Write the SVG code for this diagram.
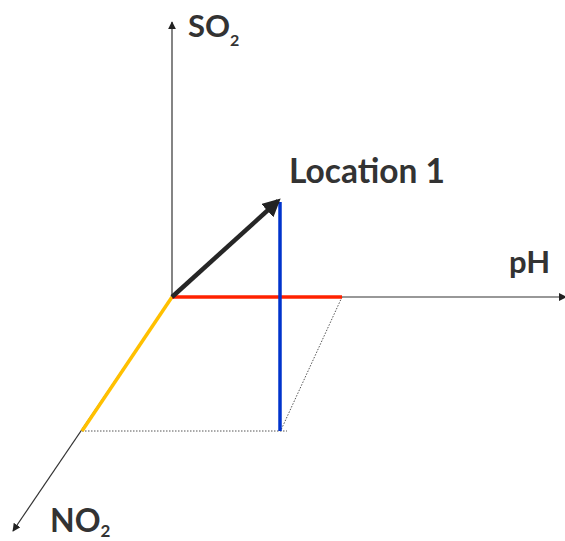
<svg xmlns="http://www.w3.org/2000/svg" width="565" height="541" viewBox="0 0 565 541">
<style>
.axis{stroke:#333;stroke-width:1.2;fill:none}
.dot{stroke:#555;stroke-width:1;stroke-dasharray:1.5 1.5;fill:none}
.lbl{font-family:Lato,"Open Sans",sans-serif;font-weight:bold;fill:#333}
</style>
<defs>
<marker id="ah" viewBox="0 0 10 10" refX="9" refY="5" markerWidth="8" markerHeight="8" markerUnits="userSpaceOnUse" orient="auto">
<path d="M0,0 L10,5 L0,10 Z" fill="#222"/>
</marker>
<marker id="ahb" viewBox="0 0 10 10" refX="8" refY="5" markerWidth="4" markerHeight="4" orient="auto">
<path d="M0,0 L10,5 L0,10 Z" fill="#222"/>
</marker>
</defs>
<g id="connectors">
<line class="axis" x1="172" y1="297" x2="172" y2="22" marker-end="url(#ah)"/>
<line class="axis" x1="172" y1="297" x2="566" y2="297" marker-end="url(#ah)"/>
<line class="axis" x1="172" y1="297" x2="13" y2="531" marker-end="url(#ah)"/>
<line class="dot" x1="82" y1="431" x2="287" y2="431"/>
<line class="dot" x1="342" y1="297" x2="281" y2="430"/>
<line x1="172" y1="297" x2="82" y2="431" stroke="#FFC000" stroke-width="3.5"/>
<line x1="172" y1="297" x2="342" y2="297" stroke="#FF2200" stroke-width="3.5"/>
<line x1="280" y1="202" x2="280" y2="431" stroke="#0033CC" stroke-width="3.5"/>
<line x1="172" y1="297" x2="278" y2="201" stroke="#262626" stroke-width="4.5" marker-end="url(#ahb)"/>
</g>
<g id="so2"><text class="lbl" x="188" y="37" font-size="31">SO<tspan font-size="16" dy="9">2</tspan></text></g>
<g id="ph"><text class="lbl" x="509" y="273" font-size="31">pH</text></g>
<g id="no2"><text class="lbl" x="50" y="532" font-size="32">NO<tspan font-size="17" dy="5">2</tspan></text></g>
<g id="location1"><text class="lbl" x="289" y="183" font-size="33.5">Location 1</text></g>
</svg>
